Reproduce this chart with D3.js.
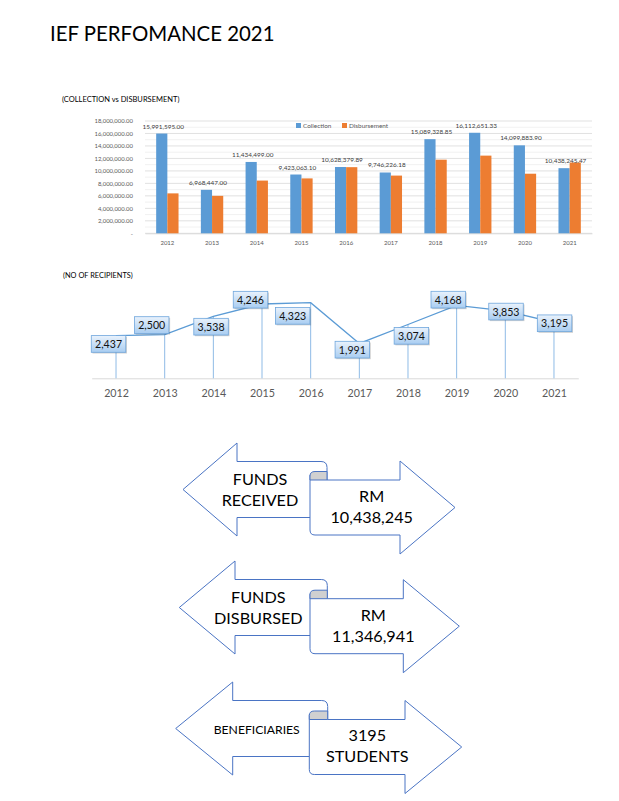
<!DOCTYPE html>
<html><head><meta charset="utf-8">
<script src="https://cdn.jsdelivr.net/npm/d3@7"></script>
<style>body{margin:0;background:#fff}svg{display:block}text{font-family:Lato,"Open Sans",sans-serif}</style>
</head><body>
<svg id="c" width="619" height="801"></svg>
<script>
// ---------------- DATA ----------------
const years = ["2012","2013","2014","2015","2016","2017","2018","2019","2020","2021"];
const collection = [15991595.00, 6968447.00, 11434499.00, 9423063.10, 10628379.89, 9746226.18, 15089328.85, 16112651.33, 14099883.90, 10438245.47];
const disbursement = [6400000, 6000000, 8450000, 8800000, 10600000, 9250000, 11800000, 12450000, 9550000, 11346941];
const recipients = [2437, 2500, 3538, 4246, 4323, 1991, 3074, 4168, 3853, 3195];
const yTicks = [0, 2e6, 4e6, 6e6, 8e6, 10e6, 12e6, 14e6, 16e6, 18e6];
const seriesNames = ["Collection", "Disbursement"];
const pageTitle = "IEF PERFOMANCE 2021";
const barTitle = "(COLLECTION vs DISBURSEMENT)";
const lineTitle = "(NO OF RECIPIENTS)";
const summaryLabels = [["FUNDS","RECEIVED"],["FUNDS","DISBURSED"],["BENEFICIARIES"]];

// ---------------- LAYOUT (not data) ----------------
const colors = {c:"#5B9BD5", d:"#ED7D31"};
const labelNudge = [[-7.5,8.3],[-13,-9.5],[-2.3,10.3],[-11.5,-4.3],[-18,13.2],[-7,6.2],[3.4,11.3],[-8.4,-5.7],[0.7,0.7],[0.6,0.9]];
const arrowLayout = [
  {ltip:183, lhead:237, lcy:489.5, rhead:400, rtip:455, rcy:507.5, sx:310, cx:327, ltx:260, rtx:371.7, lfs:16.2},
  {ltip:179.3, lhead:235, lcy:607.5, rhead:403.3, rtip:459.3, rcy:626.2, sx:310, cx:327.3, ltx:258.3, rtx:373.3, lfs:16.2},
  {ltip:175.7, lhead:232.7, lcy:728.5, rhead:405, rtip:461.7, rcy:747, sx:309.3, cx:327.7, ltx:256.7, rtx:367.3, lfs:12.2}
];

const svg = d3.select("#c");
const fmt2 = d3.format(",.2f");
const fmt0 = d3.format(",");

// Title
svg.append("text").attr("x",50).attr("y",41).attr("font-size",20.4).attr("fill","#000").text(pageTitle);

// ---------------- BAR CHART ----------------
svg.append("text").attr("x",62).attr("y",102).attr("font-size",7.5).attr("fill","#000").text(barTitle);

const bx = d3.scaleBand().domain(years).range([145,592]).paddingInner(0.5).paddingOuter(0.25);
const bs = d3.scaleBand().domain(["c","d"]).range([0,bx.bandwidth()]);
const by = d3.scaleLinear().domain([0,18e6]).range([233.3,121]);

const grid = svg.append("g");
grid.selectAll("line.minor").data(d3.range(1e6, 18e6, 2e6)).join("line")
  .attr("x1",145).attr("x2",592).attr("y1",d=>by(d)).attr("y2",d=>by(d))
  .attr("stroke","#eeeeee").attr("stroke-width",0.8);
grid.selectAll("line.major").data(yTicks).join("line")
  .attr("x1",145).attr("x2",592).attr("y1",d=>by(d)).attr("y2",d=>by(d))
  .attr("stroke","#d9d9d9").attr("stroke-width",0.8);

const yAxis = svg.append("g").attr("transform","translate(145,0)")
  .call(d3.axisLeft(by).tickValues(yTicks).tickSize(0).tickPadding(12)
    .tickFormat(d => d === 0 ? "-" : fmt2(d)));
yAxis.select(".domain").remove();
yAxis.selectAll("text").attr("font-size",5.95).attr("fill","#595959").attr("font-family","Lato");

const xAxis = svg.append("g").attr("transform","translate(0,233.3)")
  .call(d3.axisBottom(bx).tickSize(0).tickPadding(7.5));
xAxis.select(".domain").attr("stroke","#d9d9d9");
xAxis.selectAll("text").attr("font-size",6.0).attr("fill","#595959").attr("font-family","Lato");

const groups = svg.append("g").selectAll("g").data(years).join("g")
  .attr("transform", d => `translate(${bx(d)},0)`);
groups.append("rect").attr("x",bs("c")).attr("width",bs.bandwidth())
  .attr("y",(d,i)=>by(collection[i])).attr("height",(d,i)=>by(0)-by(collection[i])).attr("fill",colors.c);
groups.append("rect").attr("x",bs("d")).attr("width",bs.bandwidth())
  .attr("y",(d,i)=>by(disbursement[i])).attr("height",(d,i)=>by(0)-by(disbursement[i])).attr("fill",colors.d);
groups.append("text").attr("x",bs("c")+bs.bandwidth()/2+1.5).attr("y",(d,i)=>by(collection[i])-5)
  .attr("text-anchor","middle").attr("font-size",6.4).attr("fill","#404040")
  .text((d,i)=>fmt2(collection[i]));

// legend
const leg = svg.append("g");
[["c",296],["d",342]].forEach(([k,x],i)=>{
  leg.append("rect").attr("x",x).attr("y",123).attr("width",5).attr("height",5).attr("fill",colors[k]);
  leg.append("text").attr("x",x+7).attr("y",128.2).attr("font-size",6.4).attr("fill","#595959").text(seriesNames[i]);
});

// ---------------- LINE CHART ----------------
svg.append("text").attr("x",63).attr("y",277.5).attr("font-size",7.4).attr("fill","#000").text(lineTitle);

const lx = d3.scalePoint().domain(years).range([91.7,578.3]).padding(0.5);
const ly = d3.scaleLinear().domain([0,5000]).range([378.3,290.8]);

const defs = svg.append("defs");
const grad = defs.append("linearGradient").attr("id","lbl").attr("x1",0).attr("y1",0).attr("x2",0).attr("y2",1);
grad.append("stop").attr("offset","0%").attr("stop-color","#e9f2fc");
grad.append("stop").attr("offset","100%").attr("stop-color","#a9cdf1");

const lxAxis = svg.append("g").attr("transform","translate(0,378.3)")
  .call(d3.axisBottom(lx).tickSize(0).tickSizeOuter(0).tickPadding(11.5));
lxAxis.select(".domain").attr("stroke","#d9d9d9").attr("stroke-width",1);
lxAxis.selectAll("text").attr("font-size",10.7).attr("fill","#595959").attr("font-family","Lato");

svg.append("g").selectAll("line").data(years).join("line")
  .attr("x1",d=>lx(d)).attr("x2",d=>lx(d)).attr("y1",(d,i)=>ly(recipients[i])).attr("y2",ly(0))
  .attr("stroke","#8fbbe6").attr("stroke-width",1);

svg.append("path").datum(years)
  .attr("d", d3.line().x(d=>lx(d)).y((d,i)=>ly(recipients[i])))
  .attr("fill","none").attr("stroke","#5B9BD5").attr("stroke-width",1.3);

const bw = 34.5, bh = 16.7;
const lbl = svg.append("g").selectAll("g").data(years).join("g")
  .attr("transform",(d,i)=>`translate(${lx(d)+labelNudge[i][0]},${ly(recipients[i])+labelNudge[i][1]})`);
lbl.append("rect").attr("x",-bw/2+1.2).attr("y",-bh/2+1.2).attr("width",bw).attr("height",bh)
  .attr("fill","#000").attr("opacity",0.18);
lbl.append("rect").attr("x",-bw/2).attr("y",-bh/2).attr("width",bw).attr("height",bh)
  .attr("fill","url(#lbl)").attr("stroke","#6fa6dc").attr("stroke-width",0.8);
lbl.append("text").attr("text-anchor","middle").attr("y",4).attr("font-size",10.6)
  .attr("fill","#111").text((d,i)=>fmt0(recipients[i]));

// ---------------- SUMMARY ARROWS ----------------
const last = years.length - 1;
const summaryValues = [
  ["RM", fmt0(Math.floor(collection[last]))],
  ["RM", fmt0(Math.floor(disbursement[last]))],
  [String(recipients[last]), "STUDENTS"]
];
const HH = 46.5, HS = 28;
arrowLayout.forEach((a,k)=>{
  const g = svg.append("g");
  const lTop = a.lcy - HS, lBot = a.lcy + HS;
  const rTop = a.rcy - HS + 0.5, rBot = a.rcy + HS - 0.5;
  const st = "#4a74c4";
  g.append("path").attr("d",
    `M${a.cx},${lTop+6} Q${a.cx},${lTop} ${a.cx-6},${lTop} H${a.lhead} V${a.lcy-HH} L${a.ltip},${a.lcy} L${a.lhead},${a.lcy+HH} V${lBot} H${a.sx}`)
    .attr("fill","#fff").attr("stroke",st).attr("stroke-width",1);
  g.append("path").attr("d",
    `M${a.sx},${rTop-5} V${rBot-5} Q${a.sx},${rBot} ${a.sx+5},${rBot} H${a.rhead} V${a.rcy+HH} L${a.rtip},${a.rcy} L${a.rhead},${a.rcy-HH} V${rTop} H${a.cx} V${lTop+6}`)
    .attr("fill","#fff").attr("stroke",st).attr("stroke-width",1);
  g.append("path").attr("d",
    `M${a.sx},${rTop} V${rTop-4} Q${a.sx},${rTop-8.5} ${a.sx+5},${rTop-8.5} H${a.cx} V${rTop} Z`)
    .attr("fill","#d0d0d0").attr("stroke",st).attr("stroke-width",1);
  const L = summaryLabels[k];
  const lys = L.length === 2 ? [a.lcy-4.8, a.lcy+16] : [a.lcy+5.4];
  L.forEach((t,j)=> g.append("text").attr("x",a.ltx).attr("y",lys[j]).attr("text-anchor","middle")
    .attr("font-size",a.lfs).attr("fill","#000").text(t));
  const V = summaryValues[k];
  [a.rcy-5.6, a.rcy+15.4].forEach((y,j)=> g.append("text").attr("x",a.rtx).attr("y",y).attr("text-anchor","middle")
    .attr("font-size",16.2).attr("fill","#000").text(V[j]));
});
</script>
</body></html>
